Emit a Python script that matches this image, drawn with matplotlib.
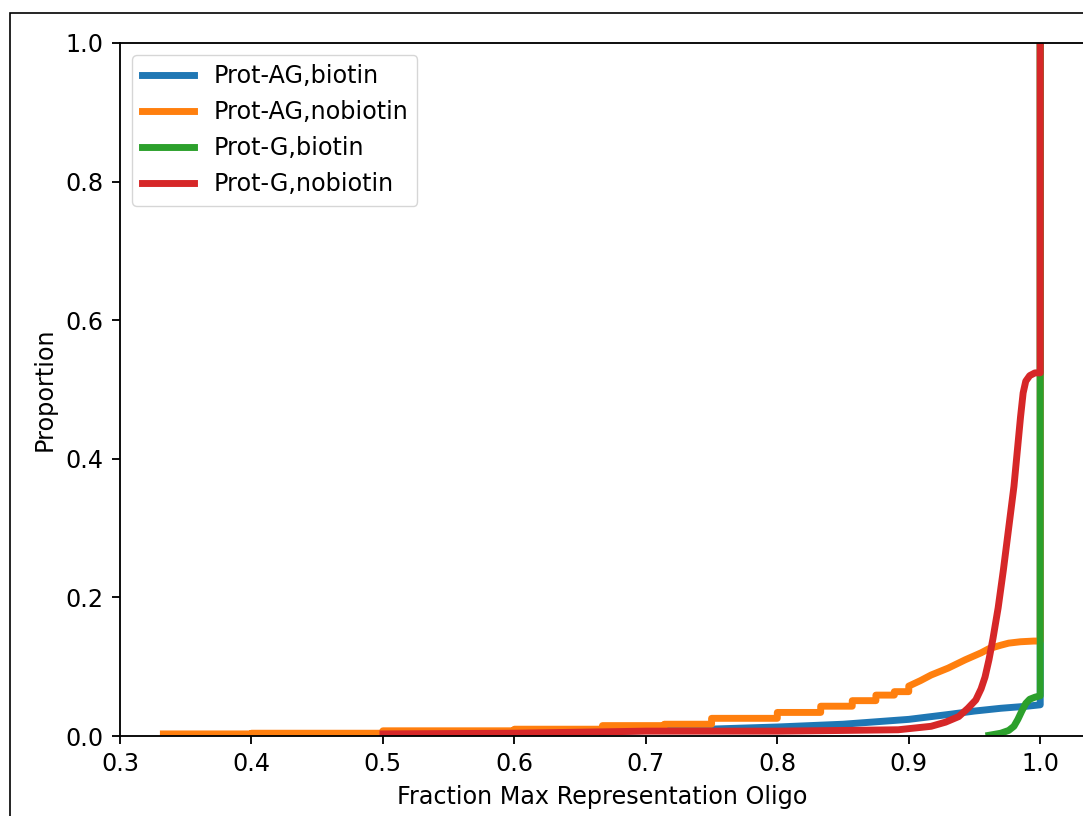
import matplotlib
matplotlib.use("Agg")
import matplotlib.pyplot as plt
from matplotlib.patches import Rectangle

labels = ["Prot-AG,biotin", "Prot-AG,nobiotin", "Prot-G,biotin", "Prot-G,nobiotin"]

blue_x = [0.667, 0.70, 0.75, 0.80, 0.85, 0.90, 0.93, 0.95, 0.97, 0.99, 1.0, 1.0]
blue_y = [0.006, 0.008, 0.010, 0.013, 0.017, 0.024, 0.031, 0.036, 0.040, 0.043, 0.045, 1.0]

orange_x = [0.333, 0.4, 0.4, 0.5, 0.5, 0.6, 0.6, 0.667, 0.667, 0.714, 0.714, 0.75, 0.75,
            0.8, 0.8, 0.833, 0.833, 0.857, 0.857, 0.875, 0.875, 0.889, 0.889, 0.9, 0.9,
            0.909, 0.917, 0.93, 0.943, 0.955, 0.961, 0.97, 0.976, 0.985, 0.995, 1.0, 1.0]
orange_y = [0.003, 0.003, 0.004, 0.004, 0.0075, 0.0075, 0.0098, 0.0098, 0.015, 0.015, 0.017,
            0.017, 0.0255, 0.0255, 0.034, 0.034, 0.043, 0.043, 0.051, 0.051, 0.059, 0.059,
            0.064, 0.064, 0.072, 0.080, 0.088, 0.098, 0.110, 0.120, 0.126, 0.131, 0.134,
            0.136, 0.137, 0.137, 1.0]

green_x = [0.961, 0.970, 0.976, 0.980, 0.983, 0.986, 0.989, 0.992, 0.996, 1.0, 1.0]
green_y = [0.001, 0.004, 0.008, 0.014, 0.024, 0.036, 0.047, 0.053, 0.056, 0.058, 1.0]

red_x = [0.5, 0.6, 0.667, 0.7, 0.8, 0.85, 0.892, 0.902, 0.917, 0.928, 0.938, 0.945, 0.951,
         0.955, 0.958, 0.961, 0.964, 0.968, 0.972, 0.976, 0.980, 0.983, 0.985, 0.987,
         0.989, 0.992, 0.996, 1.0, 1.0]
red_y = [0.003, 0.004, 0.006, 0.007, 0.007, 0.008, 0.009, 0.011, 0.014, 0.020, 0.028, 0.040,
         0.052, 0.068, 0.085, 0.110, 0.140, 0.185, 0.240, 0.300, 0.360, 0.420, 0.460, 0.495,
         0.512, 0.520, 0.524, 0.524, 1.0]

xticks = [0.3, 0.4, 0.5, 0.6, 0.7, 0.8, 0.9, 1.0]
yticks = [0.0, 0.2, 0.4, 0.6, 0.8, 1.0]

# ---- style ----
s = 1.66
plt.rcParams.update({
    "font.family": "DejaVu Sans",
    "font.size": 17.2,
    "axes.linewidth": 0.8 * s,
    "xtick.major.size": 3.5 * s,
    "ytick.major.size": 3.5 * s,
    "xtick.major.width": 0.8 * s,
    "ytick.major.width": 0.8 * s,
    "xtick.major.pad": 3.5 * s,
    "ytick.major.pad": 3.5 * s,
    "axes.labelpad": 4 * s,
})

fig = plt.figure(figsize=(10.83, 8.16), dpi=100)
ax = fig.add_axes([120 / 1083, 80 / 816, (1084 - 120) / 1083, (736 - 43) / 816])

colors = ["#1f77b4", "#ff7f0e", "#2ca02c", "#d62728"]
series = [(blue_x, blue_y), (orange_x, orange_y), (green_x, green_y), (red_x, red_y)]
for (xs, ys), c, lab in zip(series, colors, labels):
    ax.plot(xs, ys, color=c, lw=3 * s, label=lab, solid_joinstyle="round")

ax.set_xlim(0.3, 1.0333)
ax.set_ylim(0, 1)
ax.set_xticks(xticks)
ax.set_yticks(yticks)
ax.set_xlabel("Fraction Max Representation Oligo")
ax.set_ylabel("Proportion")
ax.legend(loc="upper left", handlelength=2.2)

# outer frame of the figure image
fig.patches.append(Rectangle((10 / 1083, -0.2), 1.5, 0.2 + (816 - 13) / 816,
                             transform=fig.transFigure, fill=False,
                             edgecolor="black", lw=1.2))

fig.savefig("out.png", dpi=100)
